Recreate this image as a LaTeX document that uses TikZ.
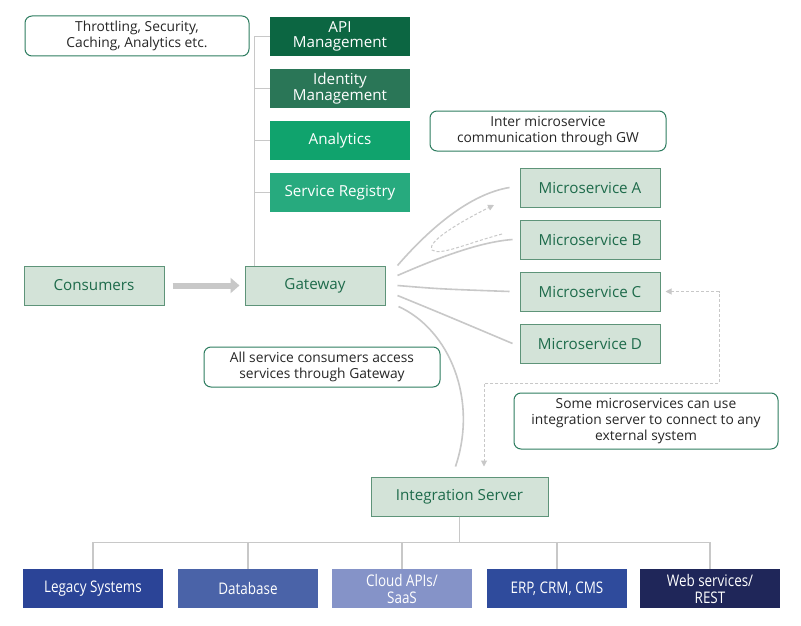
\documentclass[tikz,border=0pt]{standalone}
\usepackage{fontspec}
\setmainfont{Open Sans}
\newfontfamily\condfont[FakeStretch=0.84]{Open Sans}
\usepackage{xcolor}
\usetikzlibrary{arrows.meta, positioning, calc}
\definecolor{svcfill}{RGB}{211,227,216}
\definecolor{svcborder}{RGB}{94,148,121}
\definecolor{svctext}{RGB}{30,107,75}
\definecolor{noteborder}{RGB}{46,125,96}
\definecolor{apigreen}{RGB}{12,102,66}
\definecolor{identitygreen}{RGB}{42,118,87}
\definecolor{analyticsgreen}{RGB}{16,163,109}
\definecolor{registrygreen}{RGB}{39,170,126}
\definecolor{linegray}{RGB}{200,200,200}
\definecolor{legacyblue}{RGB}{43,68,151}
\definecolor{databaseblue}{RGB}{74,99,168}
\definecolor{cloudblue}{RGB}{133,147,200}
\definecolor{erpblue}{RGB}{47,75,156}
\definecolor{webnavy}{RGB}{31,38,89}

\tikzset{
    svcbox/.style={draw=svcborder, fill=svcfill, line width=1pt, text=svctext,
        minimum width=140pt, minimum height=39pt, inner sep=0pt,
        font=\fontsize{15.2}{16}\selectfont},
    toolbox/.style={fill=#1, text=white, minimum width=140pt, minimum height=39pt,
        inner sep=0pt, align=center, font=\fontsize{15.2}{15.5}\selectfont},
    sysbox/.style={fill=#1, text=white, minimum width=140pt, minimum height=39pt,
        inner sep=0pt, align=center, font=\condfont\fontsize{16}{17}\selectfont},
    note/.style={draw=noteborder, line width=1pt, rounded corners=7pt, align=center,
        inner sep=0pt, text=black!85, font=\fontsize{13.8}{16}\selectfont},
    treeline/.style={draw=linegray, line width=1.3pt},
    fanline/.style={draw=linegray, line width=1.6pt},
    dotconn/.style={draw=linegray, line width=1pt, dashed, dash pattern=on 3pt off 2pt}
}

\begin{document}
\begin{tikzpicture}[x=1pt, y=-1pt]
    \useasboundingbox[fill=white] (0,0) rectangle (801,626);

    % tools on top of the gateway
    \node[toolbox=apigreen] (api) at (340,36.5) {API\\Management};
    \node[toolbox=identitygreen] (ident) at (340,88.5) {Identity\\Management};
    \node[toolbox=analyticsgreen] (analytics) at (340,140.5) {Analytics};
    \node[toolbox=registrygreen] (registry) at (340,192.5) {Service Registry};
    \node[note, minimum width=224pt, minimum height=40pt] (throttle) at (137,36)
        {Throttling, Security,\\Caching, Analytics etc.};

    % consumers and gateway
    \node[svcbox] (cons) at (94,285.5) {Consumers};
    \node[svcbox] (gw) at (315,285.5) {Gateway};
    \coordinate (spine) at ([xshift=10pt]gw.north west);
    \draw[treeline] (spine) |- (api.west);
    \foreach \t in {ident,analytics,registry}
        \draw[treeline] (\t.west) -- (\t.west -| spine);
    \draw[linegray, line width=6pt, -{Triangle[length=9pt,width=15pt]},
        shorten <=8pt, shorten >=5pt] (cons) -- (gw);

    % microservices
    \node[svcbox] (msA) at (590,187.5) {Microservice A};
    \node[svcbox] (msB) at (590,239.5) {Microservice B};
    \node[svcbox] (msC) at (590,291.5) {Microservice C};
    \node[svcbox] (msD) at (590,343.5) {Microservice D};
    \node[note, minimum width=236pt, minimum height=40pt] (inter) at (548,131)
        {Inter microservice\\communication through GW};

    \draw[fanline] ($(gw.east)+(12,-20)$) .. controls (430,228) and (470,194) .. ($(msA.west)+(-10,0)$);
    \draw[fanline] ($(gw.east)+(12,-10)$) .. controls (440,257) and (480,242) .. ($(msB.west)+(-7,0)$);
    \draw[fanline] ($(gw.east)+(12,0)$) .. controls (440,289) .. ($(msC.west)+(-10,0)$);
    \draw[fanline] ($(gw.east)+(12,10)$) .. controls (445,315) .. ($(msD.west)+(-7,0)$);
    \draw[dotconn, -{Triangle[length=6pt,width=6pt]}]
        (502,234) .. controls (465,244) and (440,256) .. (432,250)
        .. controls (426,242) and (460,222) .. (494,205);

    % integration server
    \node[svcbox, minimum width=177pt] (integ) at (459.5,496.5) {Integration Server};
    \node[note, minimum width=236pt, minimum height=40pt] (allcons) at (322,367)
        {All service consumers access\\services through Gateway};
    \node[note, minimum width=264pt, minimum height=56pt] (somems) at (646,421)
        {Some microservices can use\\integration server to connect to any\\external system};
    \draw[fanline] ($(gw.east)+(13,21)$) .. controls (450,330) and (478,400) .. ($(integ.north)+(-4,-10)$);
    \coordinate (side) at (719,383);
    \draw[dotconn, {Triangle[length=6pt,width=6pt]}-{Triangle[length=6pt,width=6pt]}]
        ([xshift=5pt]msC.east) -- (msC.east -| side) -- (side)
        -| ($(integ.north)+(24.5,-10)$);

    % external systems
    \node[sysbox=legacyblue] (legacy) at (93,588.5) {Legacy Systems};
    \node[sysbox=databaseblue] (db) at (248,588.5) {Database};
    \node[sysbox=cloudblue] (cloud) at (402,588.5) {Cloud APIs/\\SaaS};
    \node[sysbox=erpblue] (erp) at (557,588.5) {ERP, CRM, CMS};
    \node[sysbox=webnavy] (web) at (710,588.5) {Web services/\\REST};
    \foreach \s in {legacy,db,cloud,erp,web}
        \draw[treeline] (integ.south) -- ++(0,26) -| (\s.north);
\end{tikzpicture}
\end{document}
